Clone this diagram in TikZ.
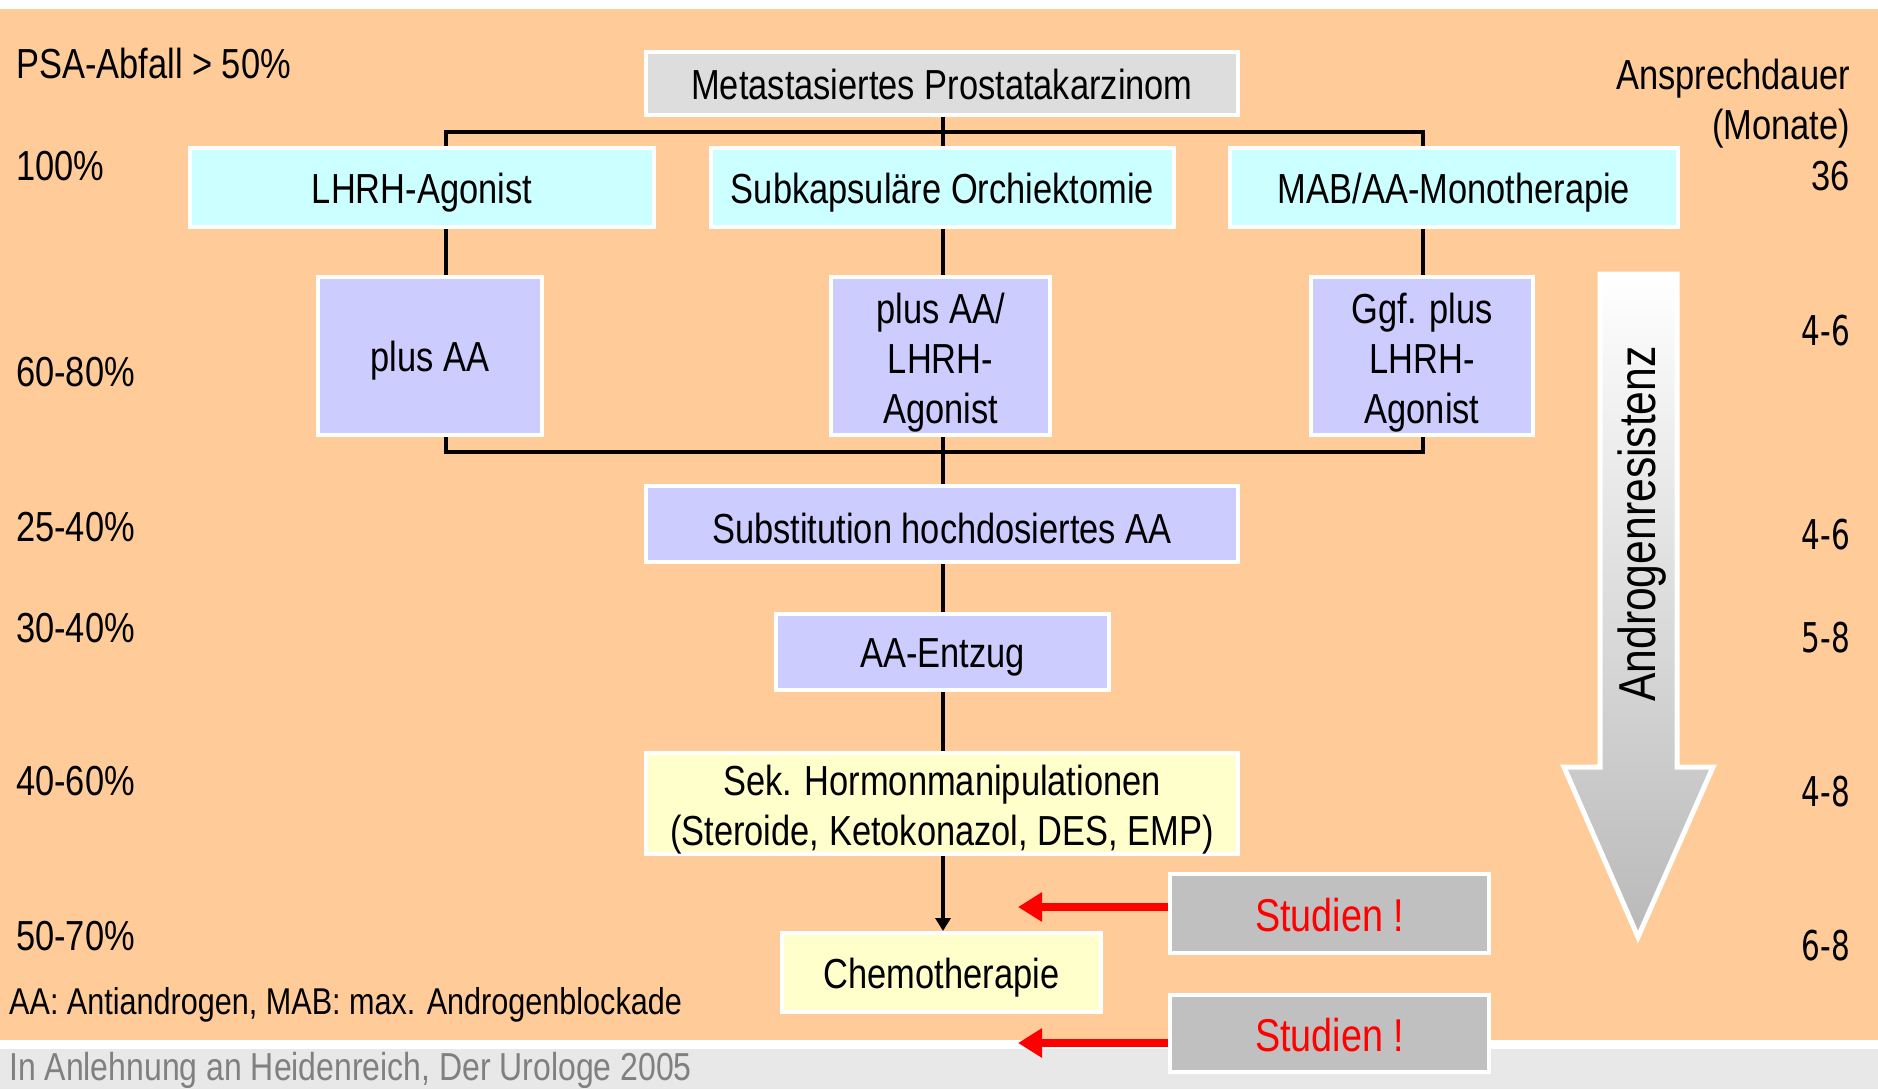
\documentclass[tikz,border=0pt]{standalone}
\usepackage{fontspec}
\setmainfont{Liberation Sans}[FakeStretch=0.82]
\newfontfamily\numfont{DejaVu Sans}[FakeStretch=0.72]
\usetikzlibrary{arrows.meta}
\definecolor{bgorange}{RGB}{255,204,153}
\definecolor{footgrey}{RGB}{232,232,232}
\definecolor{foottext}{RGB}{128,128,128}
\definecolor{cyanbox}{RGB}{204,255,255}
\definecolor{violetbox}{RGB}{204,204,255}
\definecolor{yellowbox}{RGB}{255,255,204}
\definecolor{topbox}{RGB}{221,221,221}
\definecolor{studbox}{RGB}{192,192,192}
\definecolor{arrowgrey}{RGB}{185,185,185}
\definecolor{studred}{RGB}{255,0,0}
\newcommand{\firstline}[1]{\rule{0pt}{#1pt}}
\begin{document}
\begin{tikzpicture}[x=1pt,y=-1pt,
  box/.style={draw=white, line width=4pt, inner sep=0pt, align=center,
    font=\fontsize{42}{50}\selectfont},
  strutbox/.style={box, execute at begin node={\firstline{#1}}},
  conn/.style={draw=black, line width=4pt},
  redarrow/.style={draw=studred, line width=8pt, -{Triangle[length=24pt,width=28pt]}},
  lefttext/.style={anchor=west, inner sep=0pt, font=\fontsize{42}{50}\selectfont},
  righttext/.style={anchor=east, inner sep=0pt, font=\fontsize{42}{50}\selectfont},
  numtext/.style={anchor=east, inner sep=0pt, font=\numfont\fontsize{41}{48}\selectfont}]
\useasboundingbox (0,0) rectangle (1878,1089);
\fill[white] (0,0) rectangle (1878,1089);
\fill[bgorange] (0,9) rectangle (1878,1040);
\fill[footgrey] (0,1049) rectangle (1878,1089);

% big arrow
\shade[top color=white, bottom color=arrowgrey]
  (1600,274) -- (1677,274) -- (1677,767) -- (1713,767) -- (1638,937) -- (1564,767) -- (1600,767) -- cycle;
\draw[white, line width=5pt, line join=miter]
  (1600,274) -- (1677,274) -- (1677,767) -- (1713,767) -- (1638,937) -- (1564,767) -- (1600,767) -- cycle;
\node[rotate=90, inner sep=0pt, font=\fontsize{52}{58}\selectfont] (resist) at (1642,524) {Androgenresistenz};

% boxes
\node[strutbox=33, fill=topbox, minimum width=592pt, minimum height=63pt] (meta) at (942,83.5) {Metastasiertes Prostatakarzinom};
\node[strutbox=40, fill=cyanbox, minimum width=464pt, minimum height=79pt] (lhrh) at (422,187.5) {LHRH-Agonist};
\node[strutbox=40, fill=cyanbox, minimum width=463pt, minimum height=79pt] (orch) at (942.5,187.5) {Subkapsuläre Orchiektomie};
\node[strutbox=40, fill=cyanbox, minimum width=448pt, minimum height=79pt] (mab) at (1454,187.5) {MAB/AA-Monotherapie};
\node[strutbox=40, fill=violetbox, minimum width=224pt, minimum height=158pt] (plusaa) at (430,356) {plus AA};
\node[box, fill=violetbox, minimum width=219pt, minimum height=158pt] (plusaalhrh) at (940.5,356) {\firstline{43}plus AA/\\LHRH-\\Agonist};
\node[box, fill=violetbox, minimum width=222pt, minimum height=158pt] (ggf) at (1422,356) {\firstline{43}Ggf. plus\\LHRH-\\Agonist};
\node[strutbox=40, fill=violetbox, minimum width=592pt, minimum height=76pt] (subst) at (942,524) {Substitution hochdosiertes AA};
\node[strutbox=40, fill=violetbox, minimum width=333pt, minimum height=76pt] (entzug) at (942.5,652) {AA-Entzug};
\node[box, fill=yellowbox, minimum width=592pt, minimum height=97pt] (sek) at (942,803.5) {\firstline{43}Sek. Hormonmanipulationen\\(Steroide, Ketokonazol, DES, EMP)};
\node[strutbox=40, fill=yellowbox, minimum width=319pt, minimum height=79pt] (chemo) at (941.5,972.5) {Chemotherapie};
\node[strutbox=37, fill=studbox, text=studred, font=\fontsize{46}{50}\selectfont, minimum width=319pt, minimum height=79pt] (stud1) at (1329.5,913.5) {Studien !};
\node[strutbox=37, fill=studbox, text=studred, font=\fontsize{46}{50}\selectfont, minimum width=319pt, minimum height=77pt] (stud2) at (1329.5,1033.5) {Studien !};

% connectors
\coordinate (tl) at (446,132);
\coordinate (tc) at (943,132);
\coordinate (tr) at (1423,132);
\coordinate (bl) at (446,452);
\coordinate (br) at (1423,452);
\draw[conn] (meta.south -| tc) -- (orch.north -| tc);
\draw[conn] ([xshift=-2pt]tl) -- ([xshift=2pt]tr);
\draw[conn] ([yshift=-2pt]tl) -- (tl |- lhrh.north);
\draw[conn] ([yshift=-2pt]tr) -- (tr |- mab.north);
\draw[conn] (lhrh.south -| tl) -- (plusaa.north -| tl);
\draw[conn] (orch.south -| tc) -- (plusaalhrh.north -| tc);
\draw[conn] (mab.south -| tr) -- (ggf.north -| tr);
\draw[conn, line join=miter] (plusaa.south -| bl) -- (bl) -- (br) -- (ggf.south -| br);
\draw[conn] (plusaalhrh.south -| tc) -- (subst.north -| tc);
\draw[conn] (subst.south -| tc) -- (entzug.north -| tc);
\draw[conn] (entzug.south -| tc) -- (sek.north -| tc);
\draw[conn, -{Triangle[length=13pt,width=15pt]}] (sek.south -| tc) -- (chemo.north -| tc);

\coordinate (r1) at (1018,907);
\coordinate (r2) at (1018,1043);
\draw[redarrow] (stud1.west |- r1) -- (r1);
\draw[redarrow] (stud2.west |- r2) -- (r2);

% left labels
\node[lefttext] (psa) at (16,63) {PSA-Abfall > 50\%};
\node[lefttext] (p100) at (16,166) {100\%};
\node[lefttext] (p6080) at (16,372) {60-80\%};
\node[lefttext] (p2540) at (16,527) {25-40\%};
\node[lefttext] (p3040) at (16,628) {30-40\%};
\node[lefttext] (p4060) at (16,781) {40-60\%};
\node[lefttext] (p5070) at (16,936) {50-70\%};
\node[anchor=west, inner sep=0pt, font=\fontsize{37.3}{44}\selectfont] (legend) at (9,1005) {AA: Antiandrogen, MAB: max. Androgenblockade};
\node[anchor=base west, inner sep=0pt, text=foottext, font=\fontsize{39}{46}\selectfont] (source) at (9,1080) {In Anlehnung an Heidenreich, Der Urologe 2005};

% right labels
\node[righttext] (dauer) at (1850,79) {Ansprechdauer};
\node[righttext] (monate) at (1850,129) {(Monate)};
\node[righttext] (m36) at (1850,176) {36};
\node[numtext] (m1) at (1850,331) {4-6};
\node[numtext] (m2) at (1850,535) {4-6};
\node[numtext] (m3) at (1850,638) {5-8};
\node[numtext] (m4) at (1850,792) {4-8};
\node[numtext] (m5) at (1850,946) {6-8};
\end{tikzpicture}
\end{document}
